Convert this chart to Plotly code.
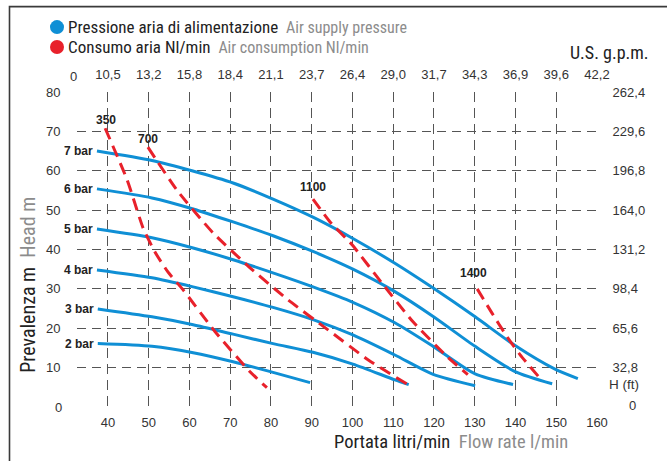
import plotly.graph_objects as go

# ---------------- data ----------------
flow_ticks = [40, 50, 60, 70, 80, 90, 100, 110, 120, 130, 140, 150, 160]
flow_tick_text = [str(v) for v in flow_ticks]
gpm_tick_text = ["10,5", "13,2", "15,8", "18,4", "21,1", "23,7", "26,4", "29,0",
                 "31,7", "34,3", "36,9", "39,6", "42,2"]
head_ticks = [10, 20, 30, 40, 50, 60, 70, 80]
head_tick_text = [str(v) for v in head_ticks]
feet_tick_text = ["32,8", "65,6", "98,4", "131,2", "164,0", "196,8", "229,6", "262,4"]

# air supply pressure curves (flow l/min, head m)
bar_labels = ["7 bar", "6 bar", "5 bar", "4 bar", "3 bar", "2 bar"]
flow_7bar = [37.3, 50.8, 60.6, 70.7, 80.5, 90.3, 100.1, 110.4, 119.8, 130.1, 139.9, 149.7, 155.3]
head_7bar = [65.0, 62.6, 60.0, 56.9, 52.8, 48.2, 42.8, 36.5, 30.2, 22.9, 15.6, 9.6, 7.2]
flow_6bar = [37.3, 50.8, 60.9, 70.7, 80.5, 90.3, 100.1, 110.4, 119.8, 130.1, 139.9, 149.0]
head_6bar = [55.4, 53.1, 50.3, 47.0, 43.5, 39.5, 35.0, 29.3, 23.0, 15.4, 9.0, 5.9]
flow_5bar = [37.3, 50.8, 60.9, 70.7, 81.2, 90.3, 100.1, 110.4, 119.8, 130.1, 139.4]
head_5bar = [45.2, 43.0, 40.4, 37.4, 33.8, 30.5, 26.6, 21.4, 15.4, 8.4, 5.7]
flow_4bar = [37.3, 50.8, 60.9, 70.7, 80.5, 90.3, 100.1, 110.4, 119.8, 130.1]
head_4bar = [34.8, 32.8, 30.5, 28.0, 25.3, 22.2, 18.3, 13.2, 8.3, 5.4]
flow_3bar = [37.5, 50.8, 60.9, 70.7, 80.5, 90.3, 100.1, 110.4, 113.8]
head_3bar = [24.9, 22.9, 20.9, 18.5, 16.1, 13.9, 10.9, 6.9, 5.7]
flow_2bar = [37.5, 50.8, 60.9, 70.7, 80.5, 89.6]
head_2bar = [16.1, 15.4, 13.8, 11.5, 8.8, 6.2]

# air consumption lines (Nl/min)
cons_labels = ["350", "700", "1100", "1400"]
flow_350 = [39.3, 44.7, 48.6, 51.5, 54.7, 58.4, 66.3, 74.8, 79.0]
head_350 = [70.8, 57.7, 45.5, 39.4, 34.3, 29.8, 19.1, 9.0, 4.9]
flow_700 = [49.8, 56.9, 65.8, 74.8, 84.2, 94.0, 103.8, 113.6]
head_700 = [66.0, 55.1, 44.2, 35.4, 27.2, 19.6, 12.0, 5.7]
flow_1100 = [90.3, 94.5, 99.9, 107.2, 114.8, 123.2, 128.3]
head_1100 = [52.8, 47.0, 41.2, 31.5, 21.7, 12.8, 8.2]
flow_1400 = [130.6, 134.2, 137.9, 141.1, 146.5]
head_1400 = [30.0, 23.9, 17.9, 13.3, 6.7]
cons_label_pos_flow = [39.6, 49.8, 90.4, 129.7]
cons_label_pos_head = [72.9, 68.1, 55.9, 34.1]

# ---------------- style ----------------
BLUE = "#0f8fd5"
RED = "#e8212b"
GRID = "#555555"
TXT = "#333333"
GRAYTXT = "#8c8c8c"
TICKFONT = "Liberation Sans, Arial, sans-serif"
COND = "Liberation Sans Narrow, Arial Narrow, Roboto Condensed, sans-serif"

W, H = 667, 461
L, R, T, B = 77, 597, 92, 407.4
X0, X1 = 32.4, 160.0
Y0, Y1 = 0.0, 80.0


def px(xp):
    return (xp - L) / (R - L)


def py(yp):
    return (B - yp) / (B - T)


fig = go.Figure()

curves = [(flow_7bar, head_7bar), (flow_6bar, head_6bar), (flow_5bar, head_5bar),
          (flow_4bar, head_4bar), (flow_3bar, head_3bar), (flow_2bar, head_2bar)]
for (fx, hy), lab in zip(curves, bar_labels):
    fig.add_trace(go.Scatter(x=fx, y=hy, mode="lines", name=lab,
                             line=dict(color=BLUE, width=3, shape="spline", smoothing=0.7),
                             showlegend=False, hoverinfo="skip"))
    fig.add_annotation(x=fx[0] - 0.4, y=hy[0], xref="x", yref="y", text="<b>%s</b>" % lab,
                       showarrow=False, xanchor="right", yanchor="middle",
                       font=dict(family=TICKFONT, size=12, color="#222222"))

cons = [(flow_350, head_350), (flow_700, head_700), (flow_1100, head_1100), (flow_1400, head_1400)]
for (fx, hy), lab, lx, ly in zip(cons, cons_labels, cons_label_pos_flow, cons_label_pos_head):
    fig.add_trace(go.Scatter(x=fx, y=hy, mode="lines", name=lab,
                             line=dict(color=RED, width=3, dash="12px,7px", shape="spline", smoothing=0.5),
                             showlegend=False, hoverinfo="skip"))
    fig.add_annotation(x=lx, y=ly, xref="x", yref="y", text="<b>%s</b>" % lab,
                       showarrow=False, xanchor="center", yanchor="middle",
                       font=dict(family=TICKFONT, size=12, color="#222222"))

# invisible trace to anchor the secondary (top / right) axes
fig.add_trace(go.Scatter(x=[flow_ticks[0], flow_ticks[-1]], y=[head_ticks[0], head_ticks[-1]],
                         xaxis="x2", yaxis="y2", mode="markers", marker=dict(opacity=0),
                         showlegend=False, hoverinfo="skip"))

fig.update_layout(
    width=W, height=H,
    margin=dict(l=L, r=W - R, t=T, b=H - B, pad=0, autoexpand=False),
    paper_bgcolor="white", plot_bgcolor="white",
    showlegend=False,
    xaxis=dict(range=[X0, X1], tickvals=flow_ticks, ticktext=flow_tick_text, automargin=False,
               showgrid=True, gridcolor=GRID, gridwidth=1.2, griddash="10px,6px",
               zeroline=False, showline=False, ticks="outside", ticklen=3,
               tickcolor="rgba(0,0,0,0)", tickfont=dict(family=TICKFONT, size=13, color=TXT)),
    xaxis2=dict(range=[X0, X1], overlaying="x", side="top", anchor="y", automargin=False,
                tickvals=flow_ticks, ticktext=gpm_tick_text, showgrid=False, zeroline=False,
                showline=False, ticks="outside", ticklen=7, tickcolor="rgba(0,0,0,0)",
                tickfont=dict(family=TICKFONT, size=13, color=TXT)),
    yaxis=dict(range=[Y0, Y1], tickvals=head_ticks, ticktext=head_tick_text, automargin=False,
               showgrid=True, gridcolor=GRID, gridwidth=1.2, griddash="9px,6px",
               zeroline=False, showline=False, ticks="outside", ticklen=13,
               tickcolor="rgba(0,0,0,0)", tickfont=dict(family=TICKFONT, size=13, color=TXT)),
    yaxis2=dict(range=[Y0, Y1], overlaying="y", side="right", anchor="x", automargin=False,
                tickvals=head_ticks, ticktext=feet_tick_text, showgrid=False, zeroline=False,
                showline=False, ticks="outside", ticklen=12, tickcolor="rgba(0,0,0,0)",
                tickfont=dict(family=TICKFONT, size=13, color=TXT)),
)

# frame (top and left edges)
fig.add_shape(type="rect", xref="paper", yref="paper", x0=px(9.5), x1=px(700), y0=py(6.5), y1=py(520),
              line=dict(color="#3a3a3a", width=1.6), fillcolor="rgba(0,0,0,0)", layer="above")

# legend
for yc, col in [(27, BLUE), (47, RED)]:
    fig.add_shape(type="circle", xref="paper", yref="paper", xsizemode="pixel", ysizemode="pixel",
                  xanchor=px(57), yanchor=py(yc), x0=-7, x1=7, y0=-7, y1=7,
                  fillcolor=col, line=dict(width=0))
fig.add_annotation(xref="paper", yref="paper", x=px(66), y=py(27), xanchor="left", yanchor="middle",
                   showarrow=False,
                   text="Pressione aria di alimentazione&nbsp; <span style='color:%s;font-size:16px'>Air supply pressure</span>" % GRAYTXT,
                   font=dict(family=COND, size=17, color="#222222"))
fig.add_annotation(xref="paper", yref="paper", x=px(66), y=py(47), xanchor="left", yanchor="middle",
                   showarrow=False,
                   text="Consumo aria Nl/min&nbsp; <span style='color:%s;font-size:16px'>Air consumption Nl/min</span>" % GRAYTXT,
                   font=dict(family=COND, size=17, color="#222222"))

# unit labels
fig.add_annotation(xref="paper", yref="paper", x=px(568), y=py(52), xanchor="left", yanchor="middle",
                   showarrow=False, text="U.S. g.p.m.", font=dict(family=COND, size=18, color="#222222"))
fig.add_annotation(xref="paper", yref="paper", x=px(73), y=py(76), xanchor="center", yanchor="middle",
                   showarrow=False, text="0", font=dict(family=TICKFONT, size=13, color=TXT))
fig.add_annotation(xref="paper", yref="paper", x=px(58), y=py(408), xanchor="center", yanchor="middle",
                   showarrow=False, text="0", font=dict(family=TICKFONT, size=13, color=TXT))
fig.add_annotation(xref="paper", yref="paper", x=px(624), y=py(385), xanchor="center", yanchor="middle",
                   showarrow=False, text="H (ft)", font=dict(family=TICKFONT, size=13.5, color=TXT))
fig.add_annotation(xref="paper", yref="paper", x=px(632), y=py(406), xanchor="center", yanchor="middle",
                   showarrow=False, text="0", font=dict(family=TICKFONT, size=13, color=TXT))

# axis titles
fig.add_annotation(xref="paper", yref="paper", x=px(332), y=py(442), xanchor="left", yanchor="middle",
                   showarrow=False,
                   text="Portata litri/min&nbsp;&nbsp;<span style='color:%s'>Flow rate l/min</span>" % GRAYTXT,
                   font=dict(family=COND, size=18.5, color="#222222"))
fig.add_annotation(xref="paper", yref="paper", x=px(28), y=py(285), xanchor="center", yanchor="middle",
                   showarrow=False, textangle=-90,
                   text="Prevalenza m&nbsp;&nbsp;<span style='color:%s'>Head m</span>" % GRAYTXT,
                   font=dict(family=COND, size=20, color="#222222"))

fig.write_html("out.html", config={"displayModeBar": False},
               post_script="document.body.style.margin='0';document.body.style.padding='0';"
                           "document.body.style.overflow='hidden';")
